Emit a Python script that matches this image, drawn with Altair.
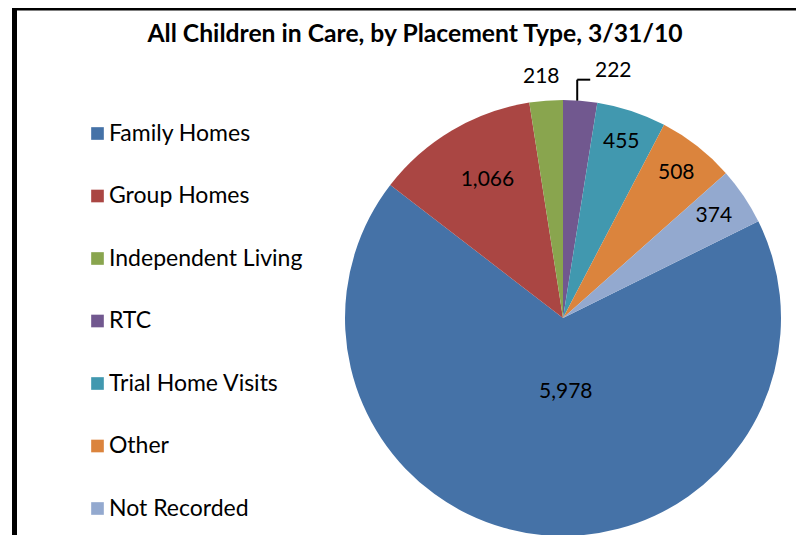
import math
import altair as alt
import pandas as pd

# ---- data ----
categories = ["Family Homes", "Group Homes", "Independent Living", "RTC",
              "Trial Home Visits", "Other", "Not Recorded"]
values = [5978, 1066, 218, 222, 455, 508, 374]
labels = ["5,978", "1,066", "218", "222", "455", "508", "374"]
colors = ["#4572A7", "#AA4643", "#89A54E", "#71588F", "#4198AF", "#DB843D", "#93A9CF"]
title_text = "All Children in Care, by Placement Type, 3/31/10"

df = pd.DataFrame({
    "category": categories,
    "value": values,
    "label": labels,
    "order": list(range(len(categories))),
})

# ---- layout (kept inside the 804x550 window so the page does not overflow) ----
W, H = 788, 527
CX, CY, R = 555, 310, 218
total = sum(values)
start = 2 * math.pi * sum(values[3:]) / total  # first slice starts here (clockwise from 12 o'clock)
FONT = "Lato"

# label distance from the pie centre and small horizontal nudge, per slice (layout only)
label_radius_expr = (
    "({'Family Homes':74,'Group Homes':160,'Independent Living':242,'RTC':218,"
    "'Trial Home Visits':185,'Other':184,'Not Recorded':182})[datum.category]"
)
label_dx_expr = "({'Family Homes':10,'Group Homes':6,'Independent Living':-3})[datum.category] || 0"

theta = alt.Theta("value:Q", stack=True,
                  scale=alt.Scale(range=[start, start + 2 * math.pi]))
order = alt.Order("order:Q")

pie = alt.Chart(df).mark_arc(outerRadius=R).encode(
    theta=theta,
    order=order,
    x=alt.value(CX),
    y=alt.value(CY),
    color=alt.Color(
        "category:N",
        sort=categories,
        scale=alt.Scale(domain=categories, range=colors),
        legend=alt.Legend(
            title=None, orient="none", legendX=78, legendY=114,
            symbolType="square", symbolSize=160, symbolStrokeWidth=0,
            labelFont=FONT, labelFontSize=23, labelColor="black", labelLimit=0,
            rowPadding=38.5, labelOffset=0, padding=0,
        ),
    ),
)

# mid-angle of each slice -> label positions
mid = alt.Chart(df).transform_joinaggregate(
    tot="sum(value)"
).transform_window(
    cum="sum(value)", sort=[alt.SortField("order")], frame=[None, 0]
).transform_calculate(
    ang=f"{start} + 2*PI*(datum.cum - datum.value/2)/datum.tot",
    lr=label_radius_expr,
    ldx=label_dx_expr,
).transform_calculate(
    px=f"{CX} + datum.lr*sin(datum.ang)",
    py=f"{CY} - datum.lr*cos(datum.ang)",
).transform_calculate(
    qx="datum.px + datum.ldx",
)

inner = mid.transform_filter("datum.category !== 'RTC'")
text = inner.mark_text(font=FONT, fontSize=21, color="black").encode(
    x=alt.X("qx:Q", scale=None),
    y=alt.Y("py:Q", scale=None),
    text="label:N",
)

# leader line and label for the small RTC slice
rtc = mid.transform_filter("datum.category === 'RTC'").transform_calculate(
    lx="datum.px - 3",
    ky="datum.py - 21",
    kx="datum.px + 10",
    tx="datum.px + 33",
    ty="datum.py - 30",
)
lead_v = rtc.mark_rule(color="black", strokeWidth=2).encode(
    x=alt.X("lx:Q", scale=None), y=alt.Y("py:Q", scale=None), y2="ky:Q")
lead_h = rtc.mark_rule(color="black", strokeWidth=2).encode(
    x=alt.X("lx:Q", scale=None), x2="kx:Q", y=alt.Y("ky:Q", scale=None))
rtc_label = rtc.mark_text(font=FONT, fontSize=21, color="black").encode(
    x=alt.X("tx:Q", scale=None), y=alt.Y("ty:Q", scale=None), text="label:N")

# frame (left and top edges of the original chart area)
frame_df = pd.DataFrame({"k": [0]})
frame_top = alt.Chart(frame_df).mark_rule(color="black", strokeWidth=5).encode(
    x=alt.value(4), x2=alt.value(W), y=alt.value(0))
frame_left = alt.Chart(frame_df).mark_rule(color="black", strokeWidth=5).encode(
    x=alt.value(6.5), y=alt.value(0), y2=alt.value(H))

chart = alt.layer(
    pie, text, lead_v, lead_h, rtc_label, frame_top, frame_left
).properties(
    width=W, height=H,
    autosize=alt.AutoSizeParams(type="none"),
    padding=0,
    title=alt.TitleParams(title_text, font=FONT, fontSize=24.7, fontWeight="bold",
                          color="black", anchor="middle", dx=13, offset=-41),
).configure_view(stroke=None)

chart.save("out.html", embed_options={"renderer": "svg", "actions": False})
